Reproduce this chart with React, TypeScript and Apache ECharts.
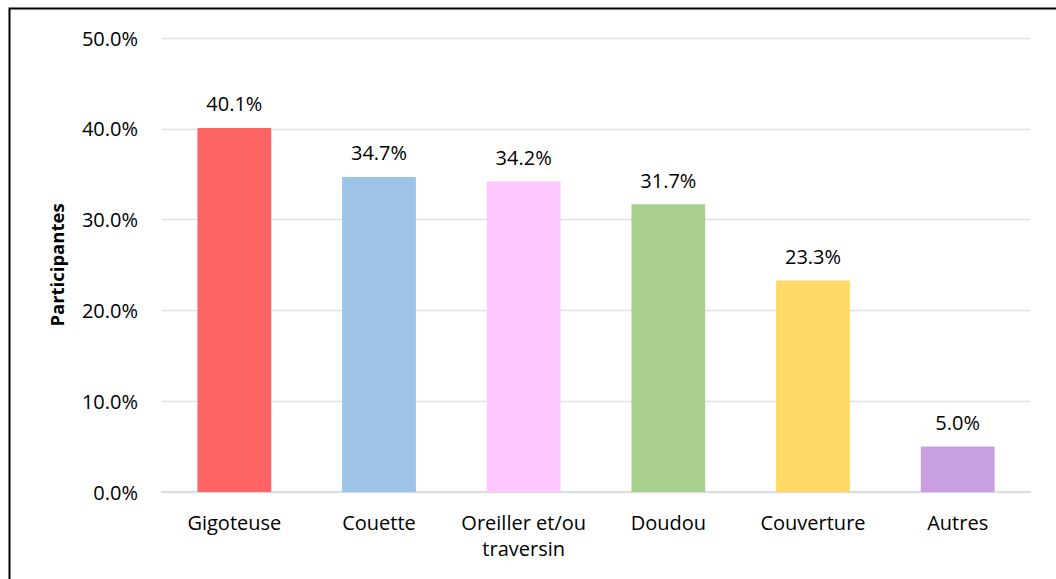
import React, { useEffect, useRef } from "react";
import * as echarts from "echarts";

const categories = ["Gigoteuse", "Couette", "Oreiller et/ou\ntraversin", "Doudou", "Couverture", "Autres"];
const values = [40.1, 34.7, 34.2, 31.7, 23.3, 5.0];
const colors = ["#FF6464", "#9DC3E6", "#FFC7FF", "#A9D18E", "#FFD966", "#C8A0E2"];
const yAxisName = "Participantes";

export default function App() {
  const ref = useRef<HTMLDivElement>(null);
  useEffect(() => {
    const chart = echarts.init(ref.current!, null, { renderer: "svg" });
    const font = "'Open Sans', sans-serif";
    const fs = 20;
    chart.setOption({
      animation: false,
      backgroundColor: "#ffffff",
      textStyle: { fontFamily: font },
      graphic: [
        {
          type: "rect",
          shape: { x: 9.5, y: 8.5, width: 1100, height: 700 },
          style: { fill: "none", stroke: "#000", lineWidth: 2 },
          silent: true,
        },
      ],
      grid: { left: 162, right: 26, top: 38, bottom: 87, containLabel: false },
      xAxis: {
        type: "category",
        data: categories,
        axisLine: { show: true, lineStyle: { color: "#D9DDE3", width: 2 } },
        axisTick: { show: false },
        axisLabel: {
          color: "#000",
          fontSize: fs,
          fontFamily: font,
          margin: 17,
          lineHeight: 26,
          interval: 0,
          hideOverlap: false,
        },
      },
      yAxis: {
        type: "value",
        min: 0,
        max: 50,
        interval: 10,
        name: yAxisName,
        nameLocation: "middle",
        nameGap: 96,
        nameTextStyle: { color: "#000", fontWeight: "bold", fontSize: 18.5, fontFamily: font },
        axisLine: { show: false },
        axisTick: { show: false },
        axisLabel: {
          color: "#000",
          fontSize: fs,
          fontFamily: font,
          margin: 24,
          formatter: (v: number) => v.toFixed(1) + "%",
        },
        splitLine: { lineStyle: { color: "#DDE1E7", width: 1.3 } },
      },
      series: [
        {
          type: "bar",
          barWidth: "51%",
          data: values.map((v, i) => ({ value: v, itemStyle: { color: colors[i] } })),
          label: {
            show: true,
            position: "top",
            distance: 14,
            color: "#000",
            fontSize: fs,
            fontFamily: font,
            formatter: (p: any) => Number(p.value).toFixed(1) + "%",
          },
        },
      ],
    });
    return () => chart.dispose();
  }, []);
  return <div ref={ref} style={{ position: "absolute", left: 0, top: 0, width: 1056, height: 579 }} />;
}
